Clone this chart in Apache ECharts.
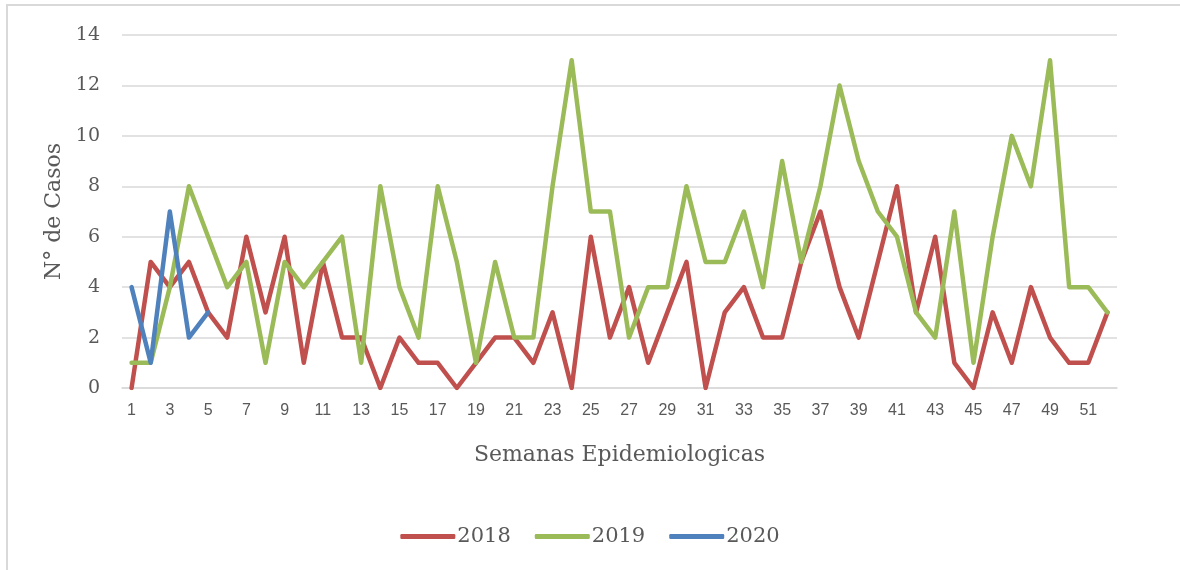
<!DOCTYPE html>
<html>
<head>
<meta charset="utf-8">
<script src="https://cdn.jsdelivr.net/npm/echarts@6/dist/echarts.min.js"></script>
<style>
  html, body { margin: 0; padding: 0; background: #fff; }
  #frame {
    position: absolute; left: 6px; top: 4px; width: 1200px; height: 600px;
    border: 2px solid #d9d9d9; box-sizing: border-box;
  }
  #chart { position: absolute; left: 0; top: 0; width: 1180px; height: 570px; }
</style>
</head>
<body>
<div id="frame"></div>
<div id="chart"></div>
<script>
// Semanas epidemiologicas 1..52
const weeks = Array.from({ length: 52 }, (_, i) => String(i + 1));

const cases2018 = [0, 5, 4, 5, 3, 2, 6, 3, 6, 1, 5, 2, 2, 0, 2, 1, 1, 0, 1, 2,
  2, 1, 3, 0, 6, 2, 4, 1, 3, 5, 0, 3, 4, 2, 2, 5, 7, 4, 2, 5,
  8, 3, 6, 1, 0, 3, 1, 4, 2, 1, 1, 3];

const cases2019 = [1, 1, 4, 8, 6, 4, 5, 1, 5, 4, 5, 6, 1, 8, 4, 2, 8, 5, 1, 5,
  2, 2, 8, 13, 7, 7, 2, 4, 4, 8, 5, 5, 7, 4, 9, 5, 8, 12, 9, 7,
  6, 3, 2, 7, 1, 6, 10, 8, 13, 4, 4, 3];

const cases2020 = [4, 1, 7, 2, 3];

const serif = "'DejaVu Serif', serif";
const sans = "'Liberation Sans', Arial, sans-serif";
const textGray = '#595959';

const chart = echarts.init(document.getElementById('chart'));

const line = (name, data, color) => ({
  name,
  type: 'line',
  data,
  symbol: 'none',
  lineStyle: { color, width: 4.5, cap: 'round', join: 'round' },
  itemStyle: { color },
});

chart.setOption({
  animation: false,
  backgroundColor: 'transparent',
  grid: { left: 122, right: 63, top: 35, bottom: 182, containLabel: false },
  legend: {
    bottom: 18,
    left: 'center',
    itemWidth: 55,
    itemHeight: 5,
    itemGap: 24,
    icon: 'roundRect',
    textStyle: { fontFamily: serif, fontSize: 21, color: textGray, padding: [0, 0, 0, -3] },
    data: ['2018', '2019', '2020'],
  },
  xAxis: {
    type: 'category',
    data: weeks,
    boundaryGap: true,
    name: 'Semanas Epidemiologicas',
    nameLocation: 'middle',
    nameGap: 56,
    nameTextStyle: { fontFamily: serif, fontSize: 22, color: textGray },
    axisLine: { lineStyle: { color: '#d9d9d9', width: 1.5 } },
    axisTick: { show: false },
    axisLabel: { interval: 1, fontFamily: sans, fontSize: 16, color: textGray, margin: 15 },
  },
  yAxis: {
    type: 'value',
    min: 0,
    max: 14,
    interval: 2,
    name: 'N° de Casos',
    nameLocation: 'middle',
    nameGap: 56,
    nameTextStyle: { fontFamily: serif, fontSize: 22, color: textGray },
    axisLine: { show: false },
    axisTick: { show: false },
    axisLabel: { fontFamily: serif, fontSize: 19, color: textGray, margin: 22 },
    splitLine: { lineStyle: { color: '#d9d9d9', width: 1.5 } },
  },
  series: [
    line('2018', cases2018, '#C0504D'),
    line('2019', cases2019, '#9BBB59'),
    line('2020', cases2020, '#4F81BD'),
  ],
});
</script>
</body>
</html>
